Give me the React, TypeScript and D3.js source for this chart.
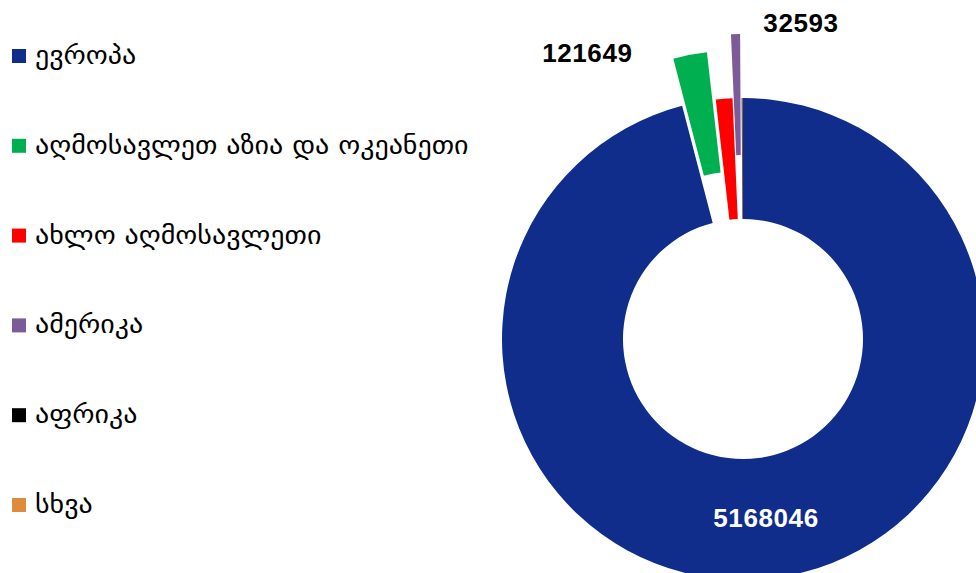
import React from "react";
import * as d3 from "d3";

const regions = [
  "ევროპა",
  "აღმოსავლეთ აზია და ოკეანეთი",
  "ახლო აღმოსავლეთი",
  "ამერიკა",
  "აფრიკა",
  "სხვა",
];
const values = [5168046, 121649, 60000, 32593, 3500, 1200];
const colors = ["#112d8b", "#00b050", "#ff0000", "#7b5c99", "#000000", "#e08a3e"];
// which slices are pulled out from the ring, and by how much
const explode = [0, 48, 0, 64, 0, 0];
// which slices get a value label
const showLabel = [true, true, false, true, false, false];

const W = 976;
const H = 573;

export default function App() {
  const cx = 743;
  const cy = 339;
  const outerR = 241;
  const innerR = 120;

  const pie = d3.pie<number>().sort(null).startAngle(0).endAngle(2 * Math.PI);
  const arcs = pie(values);
  const arc = d3.arc<d3.PieArcDatum<number>>().innerRadius(innerR).outerRadius(outerR);

  const legendY = d3.scalePoint<number>().domain(d3.range(regions.length)).range([56, 505]);

  const labelPos = (i: number) => {
    const a = arcs[i];
    const mid = (a.startAngle + a.endAngle) / 2;
    if (i === 0) {
      const [x, y] = arc.centroid(a);
      return { x: cx + x, y: cy + y + 9, anchor: "middle", fill: "#ffffff" };
    }
    const r = outerR + explode[i] + 8;
    const px = cx + Math.sin(mid) * r;
    const py = cy - Math.cos(mid) * r;
    if (mid > 2 * Math.PI - 0.1) {
      return { x: px + 28, y: py + 6, anchor: "start", fill: "#000000" };
    }
    return { x: px - 56, y: py + 15, anchor: "end", fill: "#000000" };
  };

  return (
    <svg
      width={W}
      height={H}
      style={{ position: "absolute", left: 0, top: 0, background: "#fff" }}
    >
      <g transform={`translate(${cx},${cy})`}>
        {arcs.map((a, i) => {
          const mid = (a.startAngle + a.endAngle) / 2;
          const dx = Math.sin(mid) * explode[i];
          const dy = -Math.cos(mid) * explode[i];
          return (
            <path
              key={i}
              d={arc(a) || ""}
              fill={colors[i]}
              transform={`translate(${dx},${dy})`}
            />
          );
        })}
      </g>

      {arcs.map((a, i) => {
        if (!showLabel[i]) return null;
        const p = labelPos(i);
        return (
          <text
            key={"l" + i}
            x={p.x}
            y={p.y}
            textAnchor={p.anchor as any}
            fill={p.fill}
            fontFamily="'Liberation Sans', Arial, sans-serif"
            fontWeight="bold"
            fontSize={26}
            letterSpacing={0.6}
          >
            {values[i]}
          </text>
        );
      })}

      {regions.map((name, i) => (
        <g key={"g" + i} transform={`translate(0,${legendY(i)})`}>
          <rect x={12} y={-7} width={14} height={14} fill={colors[i]} />
          <text
            transform="translate(35,8) scale(1.12,1)"
            fontFamily="'DejaVu Sans', sans-serif"
            fontSize={25}
            fill="#000"
          >
            {name}
          </text>
        </g>
      ))}
    </svg>
  );
}
